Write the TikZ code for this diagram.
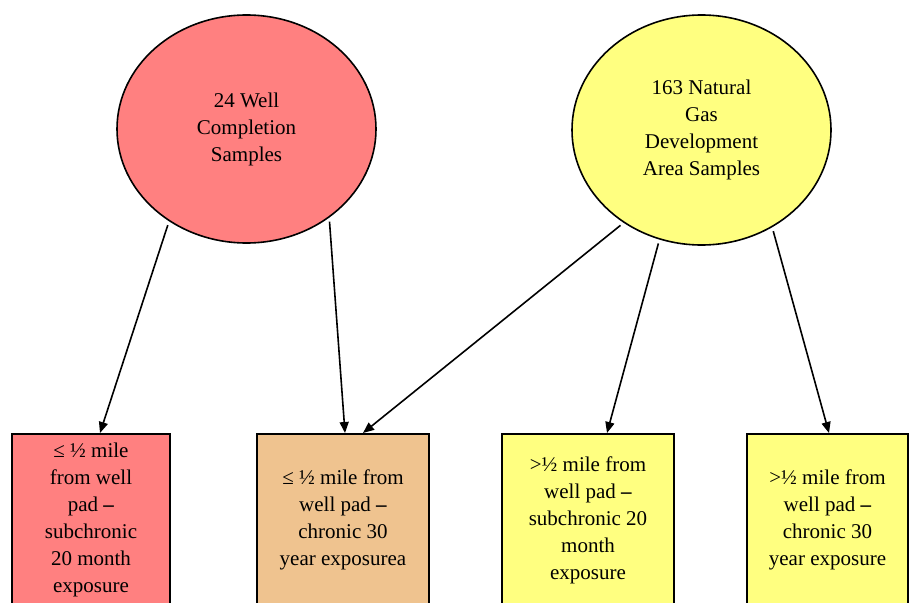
\documentclass[tikz,border=0pt]{standalone}
\usepackage{fontspec}
\setmainfont{Liberation Serif}
\usetikzlibrary{shapes.geometric,arrows.meta}
\definecolor{redfill}{HTML}{FF8080}
\definecolor{orangefill}{HTML}{EFC38F}
\definecolor{yellowfill}{HTML}{FFFF80}
\tikzset{
  oval/.style={ellipse,draw=black,line width=1.6pt,inner sep=0pt,align=center,
    font=\fontsize{21}{27}\selectfont},
  catbox/.style={rectangle,draw=black,line width=1.6pt,inner sep=0pt,align=center,anchor=north,
    minimum height=173pt,font=\fontsize{21}{27}\selectfont},
  conn/.style={line width=1.6pt,-{Triangle[length=11pt,width=9pt]},shorten <=4pt}
}
\begin{document}
\begin{tikzpicture}[x=1pt,y=-1pt]
\useasboundingbox (0,0) rectangle (909,602);
\begin{scope}
\clip (0,0) rectangle (909,602);
\node[oval,fill=redfill,minimum width=259pt,minimum height=228pt] (red) at (246.5,129) {24 Well\\Completion\\Samples};
\node[oval,fill=yellowfill,minimum width=259pt,minimum height=230pt] (yel) at (701.5,130) {163 Natural\\Gas\\Development\\Area Samples};
\node[catbox,fill=redfill,minimum width=158pt] (b1) at (91,433) {≤ ½ mile\\from well\\pad \textbf{–}\\subchronic\\20 month\\exposure};
\node[catbox,fill=orangefill,minimum width=172pt] (b2) at (343,433) {≤ ½ mile from\\well pad \textbf{–}\\chronic 30\\year exposurea};
\node[catbox,fill=yellowfill,minimum width=172pt] (b3) at (588,433) {>½ mile from\\well pad \textbf{–}\\subchronic 20\\month\\exposure};
\node[catbox,fill=yellowfill,minimum width=161pt] (b4) at (827.5,433) {>½ mile from\\well pad \textbf{–}\\chronic 30\\year exposure};
\end{scope}
\draw[conn] (red.230) -- ([xshift=9pt]b1.north);
\draw[conn] (red.313) -- ([xshift=2pt]b2.north);
\draw[conn] (yel.230.7) -- ([xshift=20pt]b2.north);
\draw[conn] (yel.249) -- ([xshift=19pt]b3.north);
\draw[conn] (yel.306.5) -- ([xshift=1.5pt]b4.north);
\end{tikzpicture}
\end{document}
